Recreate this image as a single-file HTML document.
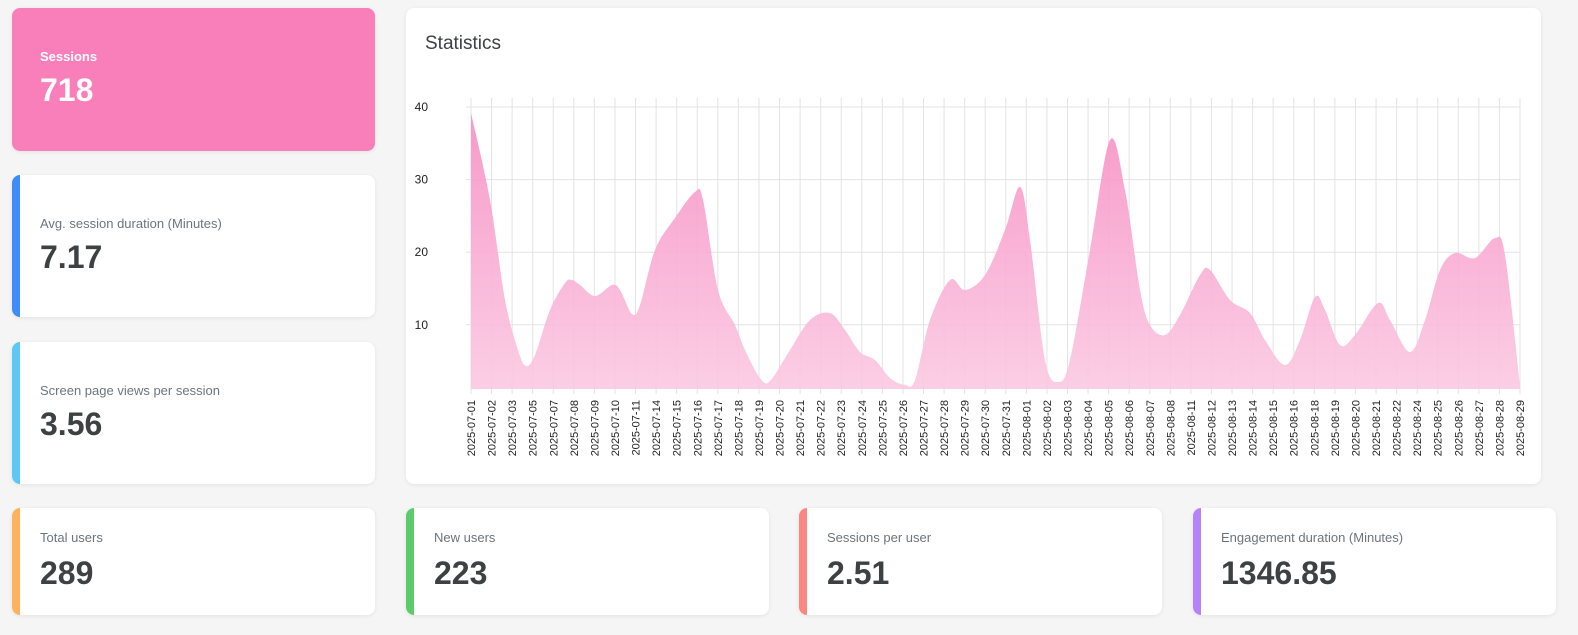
<!DOCTYPE html><html style="margin:0;padding:0;width:1578px;height:635px;overflow:hidden"><head><style>
body{margin:0;padding:0;width:1578px;height:635px;overflow:hidden;background:#f5f5f5;font-family:"Liberation Sans",sans-serif}
#w{position:relative;width:1578px;height:635px;overflow:hidden}
.c{position:absolute;background:#fff;border-radius:8px;box-shadow:0 1px 4px rgba(0,0,0,.08);box-sizing:border-box;overflow:hidden}
.c .b{position:absolute;left:0;top:0;bottom:0;width:8px}
.l{position:absolute;left:28px;font-size:13px;color:#6c757d}
.v{position:absolute;left:28px;font-size:32px;font-weight:bold;color:#3d4142}
</style></head><body><div id="w">
<div class="c" style="left:12px;top:8px;width:363px;height:143px;background:#f87fb9">
<div class="l" style="top:41px;color:#fff;font-weight:bold">Sessions</div><div class="v" style="top:64px;color:#fff">718</div></div>
<div class="c" style="left:12px;top:175px;width:363px;height:142px"><div class="b" style="background:#3e8cf7"></div>
<div class="l" style="top:41px">Avg. session duration (Minutes)</div><div class="v" style="top:64px">7.17</div></div>
<div class="c" style="left:12px;top:342px;width:363px;height:142px"><div class="b" style="background:#5bc8f5"></div>
<div class="l" style="top:41px">Screen page views per session</div><div class="v" style="top:64px">3.56</div></div>
<div class="c" style="left:12px;top:508px;width:363px;height:107px"><div class="b" style="background:#fdb25e"></div>
<div class="l" style="top:22px">Total users</div><div class="v" style="top:47px">289</div></div>
<div class="c" style="left:406px;top:508px;width:363px;height:107px"><div class="b" style="background:#5ccb6a"></div>
<div class="l" style="top:22px">New users</div><div class="v" style="top:47px">223</div></div>
<div class="c" style="left:799px;top:508px;width:363px;height:107px"><div class="b" style="background:#fb8682"></div>
<div class="l" style="top:22px">Sessions per user</div><div class="v" style="top:47px">2.51</div></div>
<div class="c" style="left:1193px;top:508px;width:363px;height:107px"><div class="b" style="background:#b483f8"></div>
<div class="l" style="top:22px">Engagement duration (Minutes)</div><div class="v" style="top:47px">1346.85</div></div>
<div class="c" style="left:406px;top:8px;width:1135px;height:476px"></div>
<div style="position:absolute;left:425px;top:33px;font-size:19px;color:#3d4142">Statistics</div>
<svg id="s" style="position:absolute;left:0;top:0;display:block" width="1578" height="635"></svg>
</div>
<script>
var s=document.getElementById('s'),h='';
var d=["07-01","07-02","07-03","07-05","07-07","07-08","07-09","07-10","07-11","07-14","07-15","07-16","07-17","07-18","07-19","07-20","07-21","07-22","07-23","07-24","07-25","07-26","07-27","07-28","07-29","07-30","07-31","08-01","08-02","08-03","08-04","08-05","08-06","08-07","08-08","08-11","08-12","08-13","08-14","08-15","08-16","08-18","08-19","08-20","08-21","08-22","08-24","08-25","08-26","08-27","08-28","08-29"];
var x0=471,x1=1520,sp=(x1-x0)/51;
[40,30,20,10].forEach(function(v,i){var y=107+i*72.6;h+='<line x1="466" x2="1520" y1="'+y+'" y2="'+y+'" stroke="#e3e3e3"/><text x="428" y="'+(y+4)+'" font-size="12" text-anchor="end" fill="#222">'+v+'</text>';});
d.forEach(function(t,i){var x=x0+i*sp;h+='<line x1="'+x+'" x2="'+x+'" y1="98" y2="394" stroke="#e3e3e3"/><text transform="translate('+(x+4)+',400) rotate(-90)" font-size="11" text-anchor="end" fill="#222">2025-'+t+'</text>';});
var p=[[471,113],[490,200],[505,300],[518,350],[526,366],[535,355],[550,310],[565,283],[572,280],[580,285],[595,296],[612,285],[620,290],[632,314],[640,305],[655,250],[675,218],[695,192],[703,200],[718,290],[735,325],[745,350],[760,378],[770,381],[790,350],[810,320],[830,313],[845,330],[860,352],[875,360],[890,378],[905,385],[915,380],[930,320],[950,280],[965,290],[985,275],[1005,230],[1020,187],[1030,240],[1045,360],[1058,382],[1070,360],[1090,250],[1110,140],[1125,190],[1140,290],[1150,325],[1165,335],[1180,315],[1200,275],[1210,270],[1230,300],[1250,313],[1265,340],[1285,365],[1300,340],[1315,297],[1325,310],[1340,345],[1355,335],[1378,303],[1390,320],[1410,352],[1425,320],[1440,270],[1455,253],[1475,258],[1495,238],[1505,255],[1520,385]];
var path='M'+p[0][0]+' '+p[0][1];
for(var i=0;i<p.length-1;i++){var a=p[i-1]||p[i],b=p[i],c=p[i+1],e=p[i+2]||c;
path+=' C'+(b[0]+(c[0]-a[0])/6)+' '+(b[1]+(c[1]-a[1])/6)+' '+(c[0]-(e[0]-b[0])/6)+' '+(c[1]-(e[1]-b[1])/6)+' '+c[0]+' '+c[1];}
path+=' L1520 389 L471 389Z';
h='<defs><linearGradient id="g" x1="0" y1="0" x2="0" y2="1"><stop offset="0" stop-color="#f78fc4"/><stop offset="1" stop-color="#fbc9e2"/></linearGradient></defs>'+h+'<path d="'+path+'" fill="url(#g)" fill-opacity=".9"/>';
s.innerHTML=h;
</script>
</body></html>
